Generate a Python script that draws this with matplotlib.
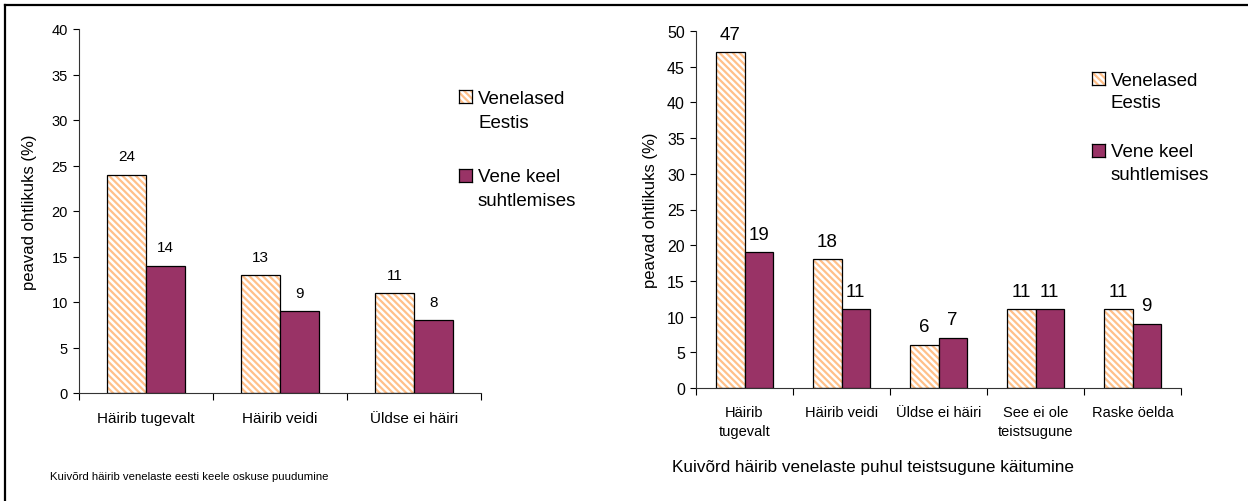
import matplotlib
matplotlib.use("Agg")
import matplotlib.pyplot as plt
from matplotlib.lines import Line2D

plt.rcParams['font.family'] = ['Liberation Sans', 'DejaVu Sans']
plt.rcParams['hatch.linewidth'] = 1.6

# Data
left_categories = ["Häirib tugevalt", "Häirib veidi", "Üldse ei häiri"]
left_venelased = [24, 13, 11]
left_vene_keel = [14, 9, 8]

right_categories = ["Häirib\ntugevalt", "Häirib veidi", "Üldse ei häiri", "See ei ole\nteistsugune", "Raske öelda"]
right_venelased = [47, 18, 6, 11, 11]
right_vene_keel = [19, 11, 7, 11, 9]

series_names = [["Venelased", "Eestis"], ["Vene keel", "suhtlemises"]]
left_caption = "Kuivõrd häirib venelaste eesti keele oskuse puudumine"
right_caption = "Kuivõrd häirib venelaste puhul teistsugune käitumine"
ylabel = "peavad ohtlikuks (%)"

W, H = 1248, 502
fig = plt.figure(figsize=(W / 100, H / 100), dpi=100)

ORANGE = '#FFC08A'
PURPLE = '#993366'
HATCH = '\\\\\\\\\\'
bw = 0.29


def px_axes(x0, y0, x1, y1):
    return fig.add_axes([x0 / W, 1 - y1 / H, (x1 - x0) / W, (y1 - y0) / H])


def draw(ax, cats, a, b, ymax, fs_x, fs_y, fs_val, val_off, xpad, xls):
    n = len(cats)
    centers = [i + 0.5 for i in range(n)]
    xa = [c - bw / 2 for c in centers]
    xb = [c + bw / 2 for c in centers]
    ax.bar(xa, a, width=bw, color='white', edgecolor=ORANGE, hatch=HATCH, linewidth=0, zorder=2)
    ax.bar(xa, a, width=bw, fill=False, edgecolor='black', linewidth=0.9, zorder=3)
    ax.bar(xb, b, width=bw, color=PURPLE, edgecolor='black', linewidth=0.9, zorder=3)
    for x, v in list(zip(xa, a)) + list(zip(xb, b)):
        ax.annotate(str(v), (x, v), xytext=(0, val_off), textcoords='offset points',
                    ha='center', va='bottom', fontsize=fs_val)
    ax.set_xlim(0, n)
    ax.set_ylim(0, ymax)
    ax.set_yticks(range(0, ymax + 1, 5))
    ax.set_xticks(range(0, n + 1))
    ax.set_xticklabels([])
    ax.set_xticks(centers, minor=True)
    ax.set_xticklabels(cats, minor=True, fontsize=fs_x, linespacing=xls)
    ax.tick_params(axis='x', which='minor', length=0, pad=xpad)
    ax.tick_params(axis='x', which='major', length=5, direction='out', width=0.8)
    ax.tick_params(axis='y', length=4, direction='out', width=0.8, labelsize=fs_y, pad=4)
    for s in ['top', 'right']:
        ax.spines[s].set_visible(False)
    for s in ['left', 'bottom']:
        ax.spines[s].set_linewidth(0.8)
        ax.spines[s].set_color('#333333')


axL = px_axes(79, 30, 481, 394)
draw(axL, left_categories, left_venelased, left_vene_keel, 40, 11, 10.5, 11, 8, 13, 1.2)
axL.set_ylabel(ylabel, fontsize=12)
axL.yaxis.set_label_coords((37 - 79) / (481 - 79), 0.5)

axR = px_axes(696, 32, 1181, 389)
draw(axR, right_categories, right_venelased, right_vene_keel, 50, 10.5, 11.5, 13.5, 7, 12, 1.5)
axR.set_ylabel(ylabel, fontsize=12)
axR.yaxis.set_label_coords((658 - 696) / (1181 - 696), 0.5)


def legend(xp, ys, fs, sq, gap):
    for lines, y, kind in zip(series_names, ys, ['a', 'b']):
        ax = fig.add_axes([xp / W, 1 - (y + sq / 2) / H, sq / W, sq / H])
        ax.set_xlim(0, 1); ax.set_ylim(0, 1)
        if kind == 'a':
            ax.bar([0.5], [1], width=1, color='white', edgecolor=ORANGE, hatch=HATCH, linewidth=0)
        else:
            ax.bar([0.5], [1], width=1, color=PURPLE, linewidth=0)
        ax.set_xticks([]); ax.set_yticks([])
        for s in ax.spines.values():
            s.set_linewidth(0.9)
        for k, line in enumerate(lines):
            fig.text((xp + sq + 6) / W, 1 - (y + k * gap) / H, line, fontsize=fs,
                     va='center_baseline', ha='left')

legend(459, [97, 176], 13.5, 13, 24)
legend(1092, [79, 151], 13.5, 13, 23)

fig.text(50 / W, 1 - 477 / H, left_caption, fontsize=8.2, va='center', ha='left')
fig.text(672 / W, 1 - 468 / H, right_caption, fontsize=12.3, va='center', ha='left')

fig.add_artist(Line2D([5 / W, 1], [1 - 6 / H, 1 - 6 / H], color='black', linewidth=1.6))
fig.add_artist(Line2D([5 / W, 5 / W], [0, 1 - 6 / H], color='black', linewidth=1.6))

fig.savefig('out.png', dpi=100)
